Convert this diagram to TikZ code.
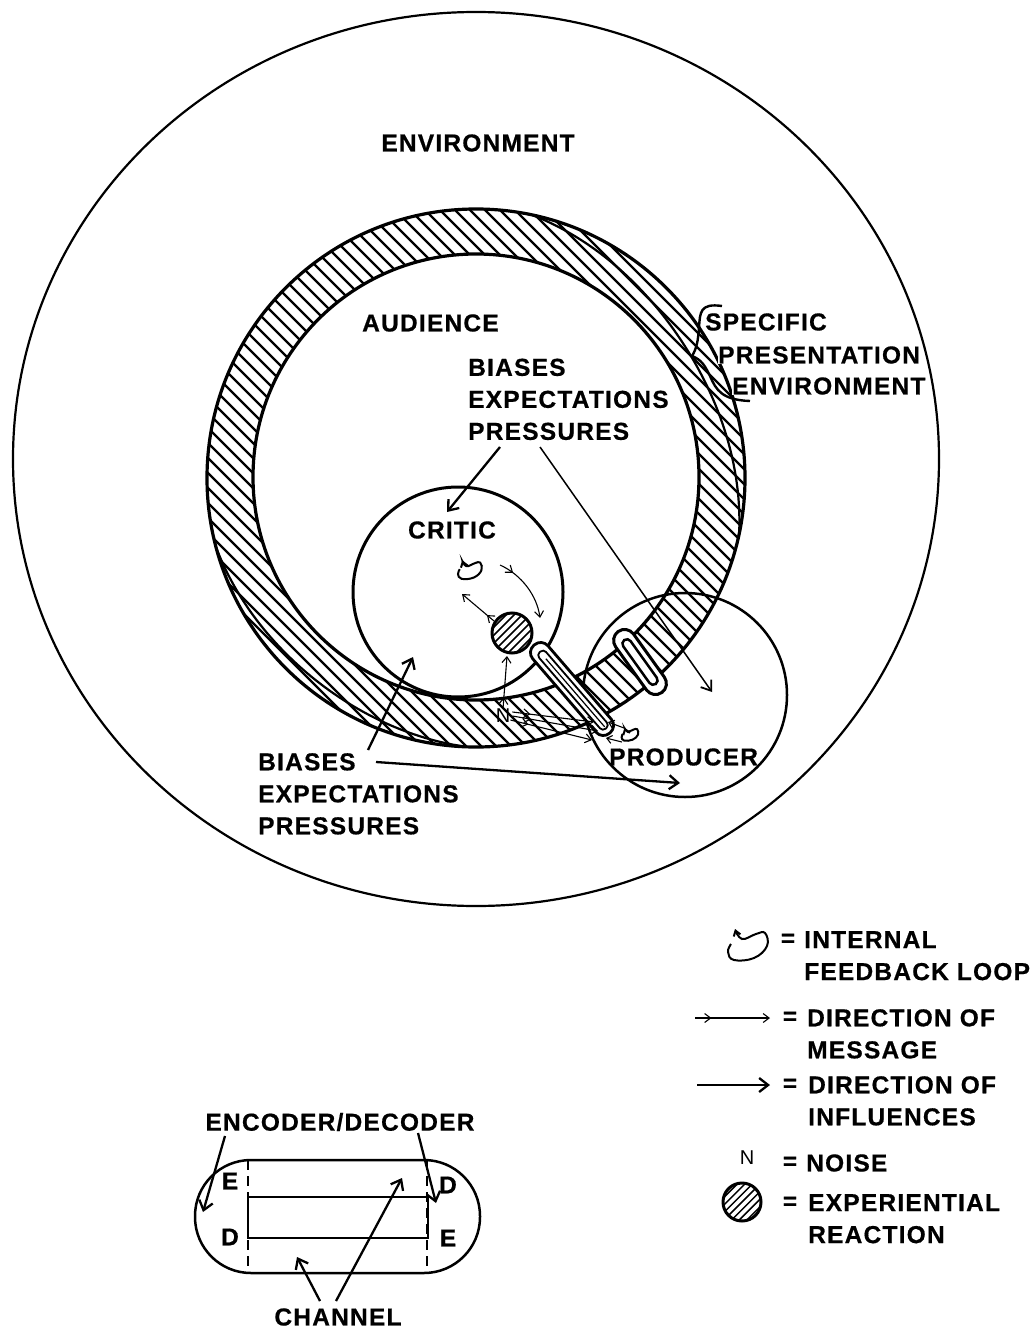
\documentclass[tikz,border=0pt]{standalone}
\usepackage{fontspec}
\newfontfamily\labfont[LetterSpace=5, FakeBold=0.6]{Liberation Sans Bold}
\newfontfamily\labfontN{Liberation Sans}
\usetikzlibrary{arrows.meta,decorations.markings}
\tikzset{
  lbl/.style={font=\labfont\fontsize{24.5}{32}\selectfont, inner sep=0pt, align=left},
  lblN/.style={font=\labfontN\fontsize{20}{24}\selectfont, inner sep=0pt},
  infl/.style={line width=2.3pt, -{Straight Barb[length=9pt,width=14pt,line width=2.3pt]}},
  thininfl/.style={line width=1.5pt, -{Straight Barb[length=9pt,width=13pt,line width=1.8pt]}},
  msgarrow/.style={line width=1.1pt, -{Straight Barb[length=6pt,width=9pt,line width=1.1pt]},
    postaction={decorate}, decoration={markings, mark=at position 0.22 with {\arrow{Straight Barb[length=6pt,width=9pt,line width=1.1pt]}}}},
  ringline/.style={line width=3.2pt},
  hatchline/.style={line width=2.2pt},
  fbloop/.pic={\draw[line width=2pt, -{Straight Barb[length=5pt,width=7pt,line width=2pt]}] plot[smooth, tension=0.7] coordinates {(-17,2) (-20,10) (-14,18) (6,16) (19,4) (17,-9) (8,-8) (-6,-3) (-13,-13)};},
  expball/.pic={\fill[white] (0,0) circle[radius=20];
    \begin{scope}\clip (0,0) circle[radius=20];
      \foreach \k in {-5,...,5} \draw[line width=1.5pt] ({8*\k-30},30) -- ({8*\k+30},-30);
    \end{scope}
    \draw[line width=3pt] (0,0) circle[radius=20];},
}
\begin{document}
\begin{tikzpicture}[x=1pt,y=-1pt]
\useasboundingbox (0,0) rectangle (1030,1329);
\fill[white] (0,0) rectangle (1030,1329);

% ---------- environment ----------
\draw[line width=2.2pt] (476,459) ellipse [x radius=463, y radius=447];
\node[lbl] (env) at (478,143) {ENVIRONMENT};

% ---------- audience ring ----------
\begin{scope}[even odd rule]
  \clip (476,478) circle[radius=269] (476,477) circle[radius=223];
  \foreach \i in {0,...,75} \draw[hatchline] ({-400+15*\i},150) -- ({300+15*\i},850);
\end{scope}
\draw[ringline] (476,478) circle[radius=269];
\draw[ringline] (476,477) circle[radius=223];
% inner band lines of the ring (upper right and lower left)
\draw[line width=2.2pt] plot[domain=-12:78, samples=60]
  ({476+(269-22*sin(180*(\x+12)/90))*cos(\x)}, {478-(269-22*sin(180*(\x+12)/90))*sin(\x)});
\draw[line width=2.2pt] plot[domain=195:268, samples=50]
  ({476+(269-11*sin(180*(\x-195)/73))*cos(\x)}, {478-(269-11*sin(180*(\x-195)/73))*sin(\x)});

\node[lbl, anchor=west] (aud) at (362,323) {AUDIENCE};
\node[lbl, anchor=north west] (bias1) at (468,358.5) {BIASES\\EXPECTATIONS\\PRESSURES};

% specific presentation environment
\draw[line width=2.4pt] (722,306) .. controls (700,303) and (700,312) .. (699,328)
  .. controls (698,340) and (697,348) .. (692,356)
  .. controls (702,360) and (705,366) .. (710,376)
  .. controls (716,390) and (722,400) .. (750,401);
\node[lbl, anchor=west] (spec1) at (705,322) {SPECIFIC};
\node[lbl, anchor=west, fill=white] (spec2) at (718,355) {PRESENTATION};
\node[lbl, anchor=west, fill=white] (spec3) at (732,386) {ENVIRONMENT};

% ---------- critic & producer ----------
\draw[line width=3pt] (458,592) circle[radius=105];
\draw[line width=2.5pt] (685,695) circle[radius=102];
\node[lbl] (critic) at (452,530) {CRITIC};
\node[lbl, anchor=west] (prod) at (609,757) {PRODUCER};

% channel tube between critic and producer
\begin{scope}[shift={(572,689)}, rotate=-49.2]
  \draw[fill=white, line width=2.8pt, rounded corners=9.5pt] (-58,-10) rectangle (58,10);
  \draw[line width=1.8pt, rounded corners=4pt] (-49,-4.5) rectangle (52,4.5);
  \draw[line width=1.2pt] (-40,0) -- (50,0);
\end{scope}
% encoder/decoder stadium in the ring
\begin{scope}[shift={(640,662)}, rotate=-54.4]
  \draw[fill=white, line width=3pt, rounded corners=11pt] (-37.5,-11) rectangle (37.5,11);
  \draw[line width=2.5pt, rounded corners=4.5pt] (-27,-4.5) rectangle (27,4.5);
\end{scope}

% experiential reaction of the critic
\pic (ball) at (512,633) {expball};
\pic[scale=0.6] (cloop) at (470,568) {fbloop};
\pic[scale=0.42] (ploop) at (630,733) {fbloop};

% noise
\node[lblN] (noise) at (503,716) {N};

% message arrows
\coordinate (m1s) at (500,565); \coordinate (m1e) at (540,618);
\draw[msgarrow] (m1s) .. controls (522,575) and (537,596) .. (m1e);
\coordinate (m2s) at (494,621); \coordinate (m2e) at (462,594);
\draw[msgarrow] (m2s) -- (m2e);
\coordinate (m3e) at (507,656);
\draw[msgarrow] (noise.north) -- (m3e);
\coordinate (n1) at (594,722); \coordinate (n2) at (598,731); \coordinate (n3) at (592,740);
\draw[msgarrow] (noise.east) ++(2,-4) -- (n1);
\draw[msgarrow] (noise.east) ++(2,0) -- (n2);
\draw[msgarrow] (noise.east) ++(0,4) -- (n3);
\coordinate (p1s) at (624,728); \coordinate (p1e) at (608,722);
\draw[line width=1.1pt, -{Straight Barb[length=5pt,width=8pt,line width=1.1pt]}] (p1s) -- (p1e);
\coordinate (p2s) at (622,742); \coordinate (p2e) at (606,738);
\draw[line width=1.1pt, -{Straight Barb[length=5pt,width=8pt,line width=1.1pt]}] (p2s) -- (p2e);

% influence arrows
\coordinate (a1s) at (500,447); \coordinate (a1e) at (447,512);
\draw[infl] (a1s) -- (a1e);
\coordinate (a2s) at (540,447); \coordinate (a2e) at (712,692);
\draw[thininfl] (a2s) -- (a2e);

\node[lbl, anchor=north west] (bias2) at (258,753) {BIASES\\EXPECTATIONS\\PRESSURES};
\coordinate (a3s) at (368,750); \coordinate (a3e) at (413,657);
\draw[infl] (a3s) -- (a3e);
\coordinate (a4s) at (376,762); \coordinate (a4e) at (680,783);
\draw[infl] (a4s) -- (a4e);

% ---------- legend ----------
\pic (lloop) at (748,942) {fbloop};
\node[lbl] (eq1) at (788,940) {=};
\node[lbl, anchor=north west] (lg1) at (804,931) {INTERNAL\\FEEDBACK LOOP};

\coordinate (lm1) at (695,1018); \coordinate (lm2) at (770,1018);
\draw[msgarrow] (lm1) -- (lm2);
\node[lbl] (eq2) at (790,1018) {=};
\node[lbl, anchor=north west] (lg2) at (807,1009) {DIRECTION OF\\MESSAGE};

\coordinate (li1) at (697,1085); \coordinate (li2) at (770,1085);
\draw[infl] (li1) -- (li2);
\node[lbl] (eq3) at (790,1085) {=};
\node[lbl, anchor=north west] (lg3) at (808,1076) {DIRECTION OF\\INFLUENCES};

\node[lblN] (lgN) at (747,1158) {N};
\node[lbl] (eq4) at (790,1163) {=};
\node[lbl, anchor=west] (lg4) at (806,1163) {NOISE};

\pic[scale=0.95] (lball) at (742,1202) {expball};
\node[lbl] (eq5) at (790,1203) {=};
\node[lbl, anchor=north west] (lg5) at (808,1194) {EXPERIENTIAL\\REACTION};

% ---------- encoder / decoder detail ----------
\node[lbl] (encdec) at (340,1122) {ENCODER/DECODER};
\draw[line width=2.5pt, rounded corners=56pt] (195,1160) rectangle (480,1273);
\draw[line width=2.5pt] (248,1197) rectangle (428,1238);
\draw[line width=2.5pt, dash pattern=on 10pt off 6pt] (248,1160) -- (248,1273);
\draw[line width=2.5pt, dash pattern=on 10pt off 6pt] (427,1160) -- (427,1273);
\node[lbl] (eL) at (230,1181) {E};
\node[lbl] (dL) at (230,1237) {D};
\node[lbl] (dR) at (448,1185) {D};
\node[lbl] (eR) at (448,1238) {E};
\coordinate (e1s) at (225,1136); \coordinate (e1e) at (203,1212);
\draw[infl] (e1s) -- (e1e);
\coordinate (e2s) at (418,1133); \coordinate (e2e) at (436,1203);
\draw[infl] (e2s) -- (e2e);
\node[lbl] (chan) at (338,1317) {CHANNEL};
\coordinate (c1s) at (320,1301); \coordinate (c1e) at (297,1257);
\draw[infl] (c1s) -- (c1e);
\coordinate (c2s) at (336,1301); \coordinate (c2e) at (402,1178);
\draw[infl] (c2s) -- (c2e);
\end{tikzpicture}
\end{document}
